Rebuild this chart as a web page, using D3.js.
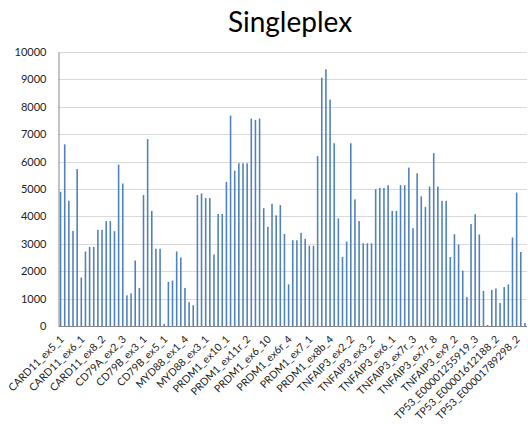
<!DOCTYPE html>
<html>
<head>
<meta charset="utf-8">
<script src="https://cdn.jsdelivr.net/npm/d3@7"></script>
<style>
  html, body { margin: 0; padding: 0; background: #fff; }
  svg { display: block; }
</style>
</head>
<body>
<svg id="chart" width="528" height="424"></svg>
<script>
// Read counts per amplicon, in panel order
const values = [
  4900, 6630, 4570, 3470, 5730, 1770, 2720, 2890, 2890, 3510, 3510, 3830, 3830, 3460,
  5890, 5200, 1120, 1190, 2390, 1390, 4780, 6820, 4200, 2820, 2820, 80, 1610, 1660,
  2720, 2500, 1390, 870, 760, 4780, 4840, 4670, 4670, 2610, 4090, 4090, 5260, 7680,
  5670, 5940, 5940, 5940, 7570, 7520, 7570, 4300, 3620, 4460, 4040, 4410, 3360, 1520,
  3130, 3130, 3400, 3180, 2930, 2930, 6200, 9060, 9370, 8260, 6670, 3930, 2520, 3080,
  6670, 4620, 3830, 3020, 3020, 3020, 4990, 5040, 5040, 5140, 4200, 4200, 5140, 5140,
  5780, 3570, 5570, 4730, 4350, 5090, 6310, 5090, 4570, 4570, 2520, 3350, 2970, 2020,
  1060, 3720, 4080, 3340, 1280, 40, 1320, 1370, 840, 1420, 1520, 3230, 4870, 2700, 110
];

// Every fifth amplicon carries a visible name on the category axis
const tickLabels = [
  "CARD11_ex5_1", "CARD11_ex6_1", "CARD11_ex8_2", "CD79A_ex2_3", "CD79B_ex3_1",
  "CD79B_ex5_1", "MYD88_ex1_4", "MYD88_ex3_1", "PRDM1_ex10_1", "PRDM1_ex11r_2",
  "PRDM1_ex6_10", "PRDM1_ex6r_4", "PRDM1_ex7_1", "PRDM1_ex8b_4", "TNFAIP3_ex2_2",
  "TNFAIP3_ex3_2", "TNFAIP3_ex6_1", "TNFAIP3_ex7r_3", "TNFAIP3_ex7r_8", "TNFAIP3_ex9_2",
  "TP53_E00001255919_3", "TP53_E00001612188_2", "TP53_E00001789298_2"
];
const labelEvery = 5;

const yTicks = d3.range(0, 10001, 1000);
const title = "Singleplex";

const plot = { left: 58.5, right: 527, top: 52, bottom: 326 };
const font = "Lato, 'Open Sans', sans-serif";

const svg = d3.select("#chart");

const x = d3.scaleBand()
  .domain(d3.range(values.length))
  .range([plot.left, plot.right])
  .paddingInner(0.62)
  .paddingOuter(0.31);

const y = d3.scaleLinear().domain([0, 10000]).range([plot.bottom, plot.top]);

// Horizontal gridlines
svg.append("g")
  .selectAll("line")
  .data(yTicks.filter(t => t > 0))
  .join("line")
  .attr("x1", plot.left)
  .attr("x2", plot.right)
  .attr("y1", d => Math.round(y(d)) + 0.5)
  .attr("y2", d => Math.round(y(d)) + 0.5)
  .attr("stroke", "#d9d9d9")
  .attr("stroke-width", 1);

// Bars
svg.append("g")
  .selectAll("rect")
  .data(values)
  .join("rect")
  .attr("x", (d, i) => x(i))
  .attr("width", x.bandwidth())
  .attr("y", d => y(d))
  .attr("height", d => y(0) - y(d))
  .attr("fill", "#4f81bd");

// Value axis
const yAxis = svg.append("g")
  .attr("transform", `translate(${plot.left},0)`)
  .call(d3.axisLeft(y).tickValues(yTicks).tickSize(0).tickPadding(12).tickFormat(d3.format("d")));
yAxis.select(".domain").attr("stroke", "#868686");
yAxis.selectAll("text")
  .attr("font-family", font)
  .attr("font-size", 11)
  .attr("fill", "#222");

// Category axis
const xAxis = svg.append("g")
  .attr("transform", `translate(0,${plot.bottom})`)
  .call(d3.axisBottom(x)
    .tickValues(d3.range(0, values.length, labelEvery))
    .tickSize(0)
    .tickFormat(i => tickLabels[i / labelEvery]));
xAxis.select(".domain").attr("stroke", "#868686").attr("d", `M${plot.left},0.5H${plot.right}`);
xAxis.selectAll("text")
  .attr("font-family", font)
  .attr("font-size", 10.5)
  .attr("fill", "#222")
  .attr("text-anchor", "end")
  .attr("dy", null)
  .attr("y", 0)
  .attr("transform", "translate(4,14) rotate(-45)");

// Title
svg.append("text")
  .attr("x", 290)
  .attr("y", 32)
  .attr("text-anchor", "middle")
  .attr("font-family", font)
  .attr("font-size", 28)
  .attr("fill", "#000")
  .text(title);
</script>
</body>
</html>
